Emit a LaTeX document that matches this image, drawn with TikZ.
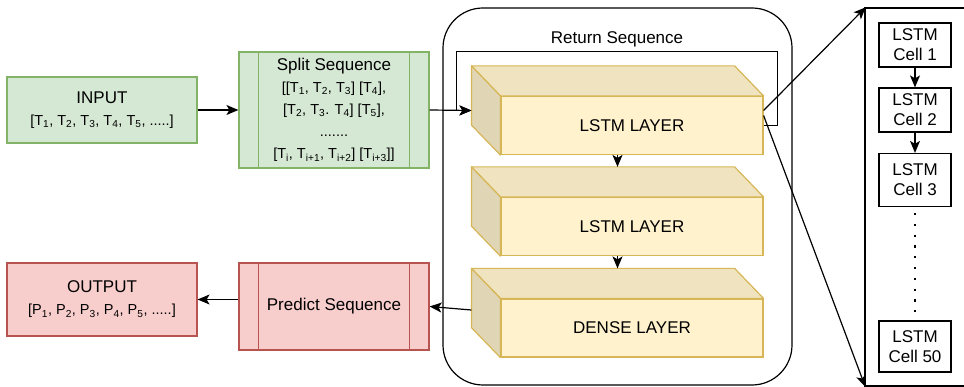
\documentclass[tikz,border=0pt]{standalone}
\usepackage{fontspec}
\setmainfont{Liberation Sans}
\usepackage{tikz}
\usetikzlibrary{arrows.meta, positioning}
\definecolor{grnfill}{HTML}{D5E8D4}
\definecolor{grnline}{HTML}{82B366}
\definecolor{redfill}{HTML}{F8CECC}
\definecolor{redline}{HTML}{B85450}
\definecolor{ylwfill}{HTML}{FFF2CC}
\definecolor{ylwline}{HTML}{D6B656}
\newcommand{\tsub}[1]{\textsubscript{#1}}

\begin{document}
\begin{tikzpicture}[x=1pt, y=-1pt, line width=1.2pt,
    arr/.style={-{Stealth[length=12pt, width=10pt, inset=3pt]}},
    greenbox/.style={draw=grnline, fill=grnfill, minimum width=190pt, inner sep=2pt, align=center, font=\fontsize{14.5}{22}\selectfont},
    redbox/.style={draw=redline, fill=redfill, minimum width=190pt, inner sep=2pt, align=center, font=\fontsize{14.5}{22}\selectfont},
    layerbox/.style={draw=ylwline, fill=ylwfill, minimum width=262pt, minimum height=58pt, font=\fontsize{17}{20}\selectfont},
    cellbox/.style={draw, minimum width=72pt, inner sep=1pt, align=center, font=\fontsize{17}{20}\selectfont}]
    \useasboundingbox (0,0) rectangle (964,387);

    \node[greenbox, minimum height=66pt] (input) at (102,110) {{\fontsize{17}{22}\selectfont INPUT}\\[0pt]
        [T\tsub{1}, T\tsub{2}, T\tsub{3}, T\tsub{4}, T\tsub{5}, .....]};
    \node[greenbox, minimum height=116pt] (split) at (334,110) {{\fontsize{17}{22}\selectfont Split Sequence}\\[0pt]
        [[T\tsub{1}, T\tsub{2}, T\tsub{3}] [T\tsub{4}],\\[0pt]
        [T\tsub{2}, T\tsub{3}. T\tsub{4}] [T\tsub{5}],\\
        .......\\[0pt]
        [T\tsub{i}, T\tsub{i+1}, T\tsub{i+2}] [T\tsub{i+3}]]};
    \node[redbox, minimum height=73pt] (output) at (102,299.5) {{\fontsize{17}{22}\selectfont OUTPUT}\\[0pt]
        [P\tsub{1}, P\tsub{2}, P\tsub{3}, P\tsub{4}, P\tsub{5}, .....]};
    \node[redbox, minimum height=87pt, font=\fontsize{17}{22}\selectfont] (predict) at (334,306.5) {Predict Sequence};
    \foreach \b/\c in {split/grnline, predict/redline} {
        \draw[\c] ([xshift=20pt]\b.north west) -- ([xshift=20pt]\b.south west);
        \draw[\c] ([xshift=-20pt]\b.north east) -- ([xshift=-20pt]\b.south east);
    }

    \node[draw, rounded corners=40pt, minimum width=349pt, minimum height=377pt] (model) at (617.5,196.5) {};
    \node[font=\fontsize{17}{20}\selectfont] (ret) at (617,39) {Return Sequence};

    \node[layerbox] (lstma) at (632,125.5) {LSTM LAYER};
    \node[layerbox] (lstmb) at (632,226.5) {LSTM LAYER};
    \node[layerbox] (dense) at (632,328) {DENSE LAYER};
    \foreach \l in {lstma, lstmb, dense} {
        \filldraw[draw=ylwline, fill=ylwfill!94!black, line join=round] (\l.north west) -- ++(-29,-30)
            -- ([shift={(-29,-30)}]\l.north east) -- (\l.north east) -- cycle;
        \filldraw[draw=ylwline, fill=ylwfill!88!black, line join=round] (\l.north west) -- ++(-29,-30)
            -- ([shift={(-29,-30)}]\l.south west) -- (\l.south west) -- cycle;
        \coordinate (\l-top) at ([shift={(-14.5,-30)}]\l.north);
    }
    \coordinate (lstma-in) at ([shift={(-29,-15)}]lstma.west);
    \coordinate (dense-in) at ([shift={(-29,-18)}]dense.west);

    \draw[arr] (input) -- (split);
    \draw[arr] (split.east) -- (lstma-in);
    \draw[arr] (lstma.east) -- ++(14,0) -- ++(0,-74) -| ([xshift=-15pt]lstma-in) -- (lstma-in);
    \draw[arr] ([xshift=-14.5pt]lstma.south) -- (lstmb-top);
    \draw[arr] ([xshift=-14.5pt]lstmb.south) -- (dense-top);
    \draw[arr] (dense-in) -- (predict.east);
    \draw[arr] (predict.west |- output.east) -- (output.east);

    \coordinate (panel-nw) at (865,8);
    \coordinate (panel-sw) at (865,386);
    \draw (964,8) -- (panel-nw) -- (panel-sw) -- (964,386);
    \draw[arr, shorten >=-1pt] ([yshift=15pt]lstma.east) -- (panel-nw);
    \draw[arr, shorten >=-1pt] ([yshift=10pt]lstma.east) -- (panel-sw);

    \node[cellbox, minimum height=44pt] (cella) at (915,45) {LSTM\\Cell 1};
    \node[cellbox, minimum height=44pt] (cellb) at (915,110) {LSTM\\Cell 2};
    \node[cellbox, minimum height=53pt] (cellc) at (915,180) {LSTM\\Cell 3};
    \node[cellbox, minimum height=51pt] (cellx) at (915,346.5) {LSTM\\Cell 50};
    \draw[arr] (cella) -- (cellb);
    \draw[arr] (cellb) -- (cellc);
    \draw[line width=2.2pt, dash pattern=on 2.2pt off 8.6pt] ([yshift=-6pt]cellc.south) -- (cellx.north);
\end{tikzpicture}
\end{document}
